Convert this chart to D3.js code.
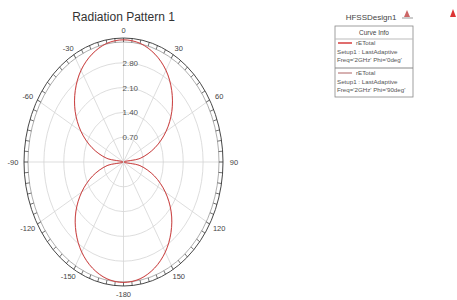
<!DOCTYPE html>
<html>
<head>
<meta charset="utf-8">
<script src="https://cdn.jsdelivr.net/npm/d3@7"></script>
<style>
body{margin:0;background:#fff;}
text{font-family:"Liberation Sans",Arial,sans-serif;}
</style>
</head>
<body>
<svg id="chart"></svg>
<script>
// angles (deg, clockwise from top) and rETotal
var angles=[0,10,20,30,40,50,60,70,80,90,100,110,120,130,140,150,160,170,180,
  190,200,210,220,230,240,250,260,270,280,290,300,310,320,330,340,350]
var phi0=[3.45,3.40,3.24,2.99,2.64,2.22,1.73,1.18,0.60,0.02,0.59,1.16,1.70,2.19,2.60,2.94,3.19,3.35,3.40,
  3.35,3.19,2.94,2.60,2.19,1.70,1.16,0.59,0.02,0.60,1.18,1.73,2.22,2.64,2.99,3.24,3.40]
var phi90=[3.44,3.39,3.23,2.98,2.63,2.21,1.72,1.17,0.59,0.02,0.58,1.15,1.69,2.18,2.59,2.93,3.18,3.34,3.39,
  3.34,3.18,2.93,2.59,2.18,1.69,1.15,0.58,0.02,0.59,1.17,1.72,2.21,2.63,2.98,3.23,3.39]
var ringTicks=[0.70,1.40,2.10,2.80,3.50]
var angleLabels=[0,30,60,90,120,150,-180,-150,-120,-90,-60,-30]
var legendRows=[
  {name:"rETotal", l1:"Setup1 : LastAdaptive", l2:"Freq='2GHz' Phi='0deg'", color:"#d84848", w:1.6},
  {name:"rETotal", l1:"Setup1 : LastAdaptive", l2:"Freq='2GHz' Phi='90deg'", color:"#9a3a3a", w:0.8}
]

var width=457, height=300
var svg=d3.select("#chart").attr("width",width).attr("height",height)

var cx=123.5, cy=162
var rmax=3.5
var xr=d3.scaleLinear().domain([0,rmax]).range([0,99.5])
var yr=d3.scaleLinear().domain([0,rmax]).range([0,124])
var rad=function(a){return a*Math.PI/180}
var px=function(a,r){return cx+xr(r)*Math.sin(rad(a))}
var py=function(a,r){return cy-yr(r)*Math.cos(rad(a))}

// title
svg.append("text").attr("x",cx).attr("y",21).attr("text-anchor","middle")
  .attr("font-size",12).attr("fill","#333").text("Radiation Pattern 1")

var grid=svg.append("g")
// rings
grid.selectAll("ellipse.ring").data(ringTicks.slice(0,4)).enter().append("ellipse")
  .attr("cx",cx).attr("cy",cy)
  .attr("rx",function(d){return xr(d)}).attr("ry",function(d){return yr(d)})
  .attr("fill","none").attr("stroke","#d4d4d4").attr("stroke-width",0.8)
// spokes
grid.selectAll("line.spoke").data(d3.range(0,360,30)).enter().append("line")
  .attr("x1",cx).attr("y1",cy)
  .attr("x2",function(d){return px(d,rmax)}).attr("y2",function(d){return py(d,rmax)})
  .attr("stroke","#d4d4d4").attr("stroke-width",0.8)

// outer ruler band
var band=4
svg.append("ellipse").attr("cx",cx).attr("cy",cy).attr("rx",xr(rmax)).attr("ry",yr(rmax))
  .attr("fill","none").attr("stroke","#333").attr("stroke-width",0.9)
svg.append("ellipse").attr("cx",cx).attr("cy",cy).attr("rx",xr(rmax)-band).attr("ry",yr(rmax)-band)
  .attr("fill","none").attr("stroke","#777").attr("stroke-width",0.6)
svg.selectAll("line.tick").data(d3.range(0,360,5)).enter().append("line")
  .attr("x1",function(d){return px(d,rmax)})
  .attr("y1",function(d){return py(d,rmax)})
  .attr("x2",function(d){return cx+(xr(rmax)-band)*Math.sin(rad(d))})
  .attr("y2",function(d){return cy-(yr(rmax)-band)*Math.cos(rad(d))})
  .attr("stroke","#333").attr("stroke-width",0.7)

// ring labels
svg.selectAll("text.rl").data(ringTicks.slice(0,4)).enter().append("text")
  .attr("x",cx-1).attr("y",function(d){return cy-yr(d)+3})
  .attr("font-size",8).attr("fill","#555")
  .text(function(d){return d.toFixed(2)})

// angle labels
svg.selectAll("text.al").data(angleLabels).enter().append("text")
  .attr("x",function(d){return cx+(xr(rmax)+11)*Math.sin(rad(d))})
  .attr("y",function(d){return cy-(yr(rmax)+8)*Math.cos(rad(d))+3})
  .attr("text-anchor","middle").attr("font-size",7.5).attr("fill","#444")
  .text(function(d){return d})

// curves
var line=d3.line()
  .x(function(d){return px(d[0],d[1])})
  .y(function(d){return py(d[0],d[1])})
  .curve(d3.curveCatmullRomClosed.alpha(0.5))
svg.append("path").datum(angles.map(function(a,i){return [a,phi0[i]]}))
  .attr("d",line).attr("fill","none").attr("stroke",legendRows[0].color).attr("stroke-width",1)
svg.append("path").datum(angles.map(function(a,i){return [a,phi90[i]]}))
  .attr("d",line).attr("fill","none").attr("stroke",legendRows[1].color)
  .attr("stroke-width",0.4).attr("stroke-opacity",0.6)

// legend
var lg=svg.append("g")
lg.append("text").attr("x",371).attr("y",20).attr("text-anchor","middle")
  .attr("font-size",8).attr("fill","#444").text("HFSSDesign1")
// little logos
lg.append("path").attr("d","M407,10 L410,17 L404,17 Z").attr("fill","#c66")
lg.append("line").attr("x1",402).attr("x2",413).attr("y1",18).attr("y2",18).attr("stroke","#999")
lg.append("path").attr("d","M453,9 L456,17 L450,17 Z").attr("fill","#d33")

lg.append("rect").attr("x",335).attr("y",26).attr("width",78).attr("height",71)
  .attr("fill","#fff").attr("stroke","#888").attr("stroke-width",0.8)
lg.append("text").attr("x",374).attr("y",35).attr("text-anchor","middle")
  .attr("font-size",6.5).attr("fill","#444").text("Curve Info")
lg.append("line").attr("x1",335).attr("x2",413).attr("y1",39).attr("y2",39).attr("stroke","#bbb")
lg.append("line").attr("x1",335).attr("x2",413).attr("y1",68).attr("y2",68).attr("stroke","#888")
legendRows.forEach(function(r,i){
  var y0=43+i*30
  lg.append("line").attr("x1",338).attr("x2",352).attr("y1",y0).attr("y2",y0)
    .attr("stroke",r.color).attr("stroke-width",r.w)
  lg.append("text").attr("x",356).attr("y",y0+2).attr("font-size",6.2).attr("fill","#555").text(r.name)
  lg.append("text").attr("x",337).attr("y",y0+11).attr("font-size",6.2).attr("fill","#555").text(r.l1)
  lg.append("text").attr("x",337).attr("y",y0+19).attr("font-size",6.2).attr("fill","#555").text(r.l2)
})
</script>
</body>
</html>
